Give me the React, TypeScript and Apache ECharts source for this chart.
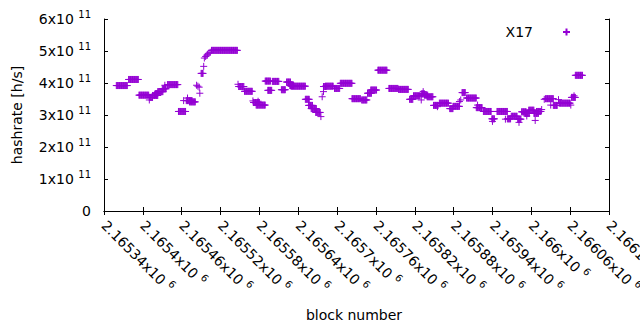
import React, { useEffect, useRef } from "react";
import * as echarts from "echarts";

const SERIES_NAME = "X17";
const X_TITLE = "block number";
const Y_TITLE = "hashrate [h/s]";

const blockMin = 2165340;
const blockMax = 2166120;
const blockStep = 60;
const xTickMantissas = [
  "2.16534", "2.1654", "2.16546", "2.16552", "2.16558", "2.16564", "2.1657",
  "2.16576", "2.16582", "2.16588", "2.16594", "2.166", "2.16606", "2.16612",
];
const xTickExponent = "6";

const hashMin = 0;
const hashMax = 6e11;
const hashStep = 1e11;
const yTickMantissas = ["0", "1x10", "2x10", "3x10", "4x10", "5x10", "6x10"];
const yTickExponent = "11";

// runs of consecutive blocks sharing one hashrate estimate
const runStart = [
  2165359, 2165378, 2165394, 2165410, 2165410, 2165415, 2165419, 2165423, 2165430, 2165434,
  2165438, 2165455, 2165463, 2165469, 2165467, 2165472, 2165483, 2165485, 2165487, 2165488,
  2165490, 2165494, 2165495, 2165497, 2165499, 2165500, 2165502, 2165504, 2165506, 2165547,
  2165548, 2165557, 2165570, 2165571, 2165575, 2165578, 2165589, 2165593, 2165600, 2165614,
  2165622, 2165627, 2165629, 2165651, 2165656, 2165660, 2165667, 2165675, 2165677, 2165679,
  2165679, 2165682, 2165696, 2165705, 2165723, 2165738, 2165747, 2165752, 2165763, 2165780,
  2165795, 2165812, 2165818, 2165830, 2165833, 2165830, 2165835, 2165839, 2165849, 2165855,
  2165858, 2165874, 2165879, 2165889, 2165891, 2165893, 2165900, 2165917, 2165915, 2165926,
  2165939, 2165940, 2165947, 2165960, 2165963, 2165969, 2165979, 2165981, 2165985, 2165990,
  2165993, 2165996, 2166004, 2166008, 2166006, 2166016, 2166020, 2166022, 2166034, 2166030,
  2166042, 2166043, 2166061, 2166062, 2166066, 2166068,
];
const runEnd = [
  2165376, 2165393, 2165409, 2165410, 2165415, 2165423, 2165423, 2165431, 2165436, 2165434,
  2165454, 2165466, 2165463, 2165469, 2165476, 2165481, 2165483, 2165485, 2165487, 2165488,
  2165493, 2165494, 2165495, 2165497, 2165499, 2165500, 2165502, 2165504, 2165546, 2165547,
  2165556, 2165569, 2165570, 2165580, 2165589, 2165578, 2165597, 2165599, 2165610, 2165620,
  2165628, 2165633, 2165651, 2165657, 2165662, 2165668, 2165674, 2165675, 2165677, 2165679,
  2165683, 2165694, 2165704, 2165723, 2165736, 2165746, 2165753, 2165761, 2165777, 2165794,
  2165810, 2165817, 2165828, 2165830, 2165833, 2165835, 2165840, 2165848, 2165856, 2165855,
  2165872, 2165879, 2165889, 2165889, 2165891, 2165898, 2165915, 2165917, 2165924, 2165938,
  2165943, 2165940, 2165963, 2165960, 2165968, 2165978, 2165984, 2165981, 2165992, 2165997,
  2165993, 2166004, 2166011, 2166015, 2166006, 2166016, 2166020, 2166034, 2166040, 2166030,
  2166042, 2166060, 2166061, 2166068, 2166066, 2166079,
];
const runHashrate = [
  3.92e11, 4.11e11, 3.62e11, 3.47e11, 3.55e11, 3.61e11, 3.67e11, 3.73e11, 3.82e11, 3.93e11,
  3.95e11, 3.11e11, 3.45e11, 3.53e11, 3.45e11, 3.41e11, 3.93e11, 3.90e11, 3.87e11, 3.68e11,
  4.30e11, 4.52e11, 4.78e11, 4.83e11, 4.87e11, 4.90e11, 4.93e11, 4.96e11, 5.02e11, 3.96e11,
  3.89e11, 3.74e11, 3.44e11, 3.39e11, 3.31e11, 3.43e11, 4.06e11, 3.77e11, 4.05e11, 3.79e11,
  4.03e11, 3.92e11, 3.90e11, 3.49e11, 3.30e11, 3.20e11, 3.08e11, 2.95e11, 3.57e11, 3.73e11,
  3.89e11, 3.90e11, 3.83e11, 3.99e11, 3.51e11, 3.47e11, 3.68e11, 3.78e11, 4.40e11, 3.83e11,
  3.80e11, 3.49e11, 3.60e11, 3.47e11, 3.73e11, 3.66e11, 3.62e11, 3.57e11, 3.30e11, 3.26e11,
  3.37e11, 3.20e11, 3.27e11, 3.42e11, 3.47e11, 3.70e11, 3.53e11, 3.31e11, 3.23e11, 3.11e11,
  2.88e11, 2.80e11, 3.11e11, 2.87e11, 2.88e11, 2.96e11, 2.87e11, 2.77e11, 3.10e11, 3.05e11,
  2.97e11, 3.15e11, 3.05e11, 3.11e11, 2.83e11, 3.17e11, 3.49e11, 3.51e11, 3.30e11, 3.31e11,
  3.48e11, 3.37e11, 3.31e11, 3.55e11, 3.60e11, 4.24e11,
];

const COLOR = "#9400d3";
const FONT = "'DejaVu Sans', sans-serif";
const PLUS = "path://M5,0L5,10M0,5L10,5";

const rich = {
  b: { fontSize: 14, lineHeight: 20, verticalAlign: "middle", color: "#000", fontFamily: FONT },
  s: { fontSize: 10, lineHeight: 13, verticalAlign: "top", color: "#000", fontFamily: FONT },
};

export default function App() {
  const ref = useRef<HTMLDivElement>(null);
  useEffect(() => {
    if (!ref.current) return;
    const chart = echarts.init(ref.current, undefined, { renderer: "svg" });
    const points: number[][] = [];
    for (let i = 0; i < runStart.length; i++) {
      for (let b = runStart[i]; b <= runEnd[i]; b++) points.push([b, runHashrate[i]]);
    }
    const xFmt = (v: number) => {
      const idx = Math.round((v - blockMin) / blockStep);
      return `{b|${xTickMantissas[idx]}x10 }{s|${xTickExponent}}`;
    };
    const yFmt = (v: number) => {
      const idx = Math.round((v - hashMin) / hashStep);
      return idx === 0 ? `{b|${yTickMantissas[0]}}` : `{b|${yTickMantissas[idx]} }{s|${yTickExponent}}`;
    };
    const line = { show: true, lineStyle: { color: "#000", width: 1 } };
    const tick = { show: true, inside: true, length: 4, lineStyle: { color: "#000", width: 1 } };
    chart.setOption({
      animation: false,
      textStyle: { fontFamily: FONT },
      grid: { left: 104, right: 31, top: 19, bottom: 119, containLabel: false, outerBoundsMode: "none" },
      legend: {
        show: true,
        right: 69,
        top: 25,
        padding: 0,
        align: "right",
        itemWidth: 7,
        itemHeight: 7,
        data: [SERIES_NAME],
        textStyle: { fontSize: 14, color: "#000", fontFamily: FONT, padding: [0, 25, 0, 0], lineHeight: 14 },
      },
      xAxis: [
        {
          type: "value",
          min: blockMin,
          max: blockMax,
          interval: blockStep,
          position: "bottom",
          axisLine: line,
          axisTick: tick,
          splitLine: { show: false },
          axisLabel: {
            show: true,
            rotate: -45,
            margin: 12,
            formatter: xFmt,
            rich,
            showMinLabel: true,
            showMaxLabel: true,
          },
        },
        {
          type: "value",
          min: blockMin,
          max: blockMax,
          interval: blockStep,
          position: "top",
          axisLine: line,
          axisTick: tick,
          splitLine: { show: false },
          axisLabel: { show: false },
        },
      ],
      yAxis: [
        {
          type: "value",
          min: hashMin,
          max: hashMax,
          interval: hashStep,
          position: "left",
          axisLine: line,
          axisTick: tick,
          splitLine: { show: false },
          axisLabel: { show: true, margin: 13, formatter: yFmt, rich },
        },
        {
          type: "value",
          min: hashMin,
          max: hashMax,
          interval: hashStep,
          position: "right",
          axisLine: line,
          axisTick: tick,
          splitLine: { show: false },
          axisLabel: { show: false },
        },
      ],
      graphic: [
        {
          type: "text",
          x: 17,
          y: 115,
          rotation: Math.PI / 2,
          style: { text: Y_TITLE, fontSize: 14, fontFamily: FONT, fill: "#000", align: "center", verticalAlign: "middle" },
        },
        {
          type: "text",
          x: 354,
          y: 315,
          style: { text: X_TITLE, fontSize: 14, fontFamily: FONT, fill: "#000", align: "center", verticalAlign: "middle" },
        },
      ],
      series: [
        {
          name: SERIES_NAME,
          type: "scatter",
          xAxisIndex: 0,
          yAxisIndex: 0,
          symbol: PLUS,
          symbolSize: 7,
          itemStyle: { color: COLOR, borderColor: COLOR, borderWidth: 1, opacity: 1 },
          emphasis: { disabled: true },
          data: points,
        },
      ],
    });
    return () => chart.dispose();
  }, []);
  return (
    <div
      ref={ref}
      style={{ position: "fixed", left: 0, top: 0, width: 640, height: 330, background: "#fff" }}
    />
  );
}
